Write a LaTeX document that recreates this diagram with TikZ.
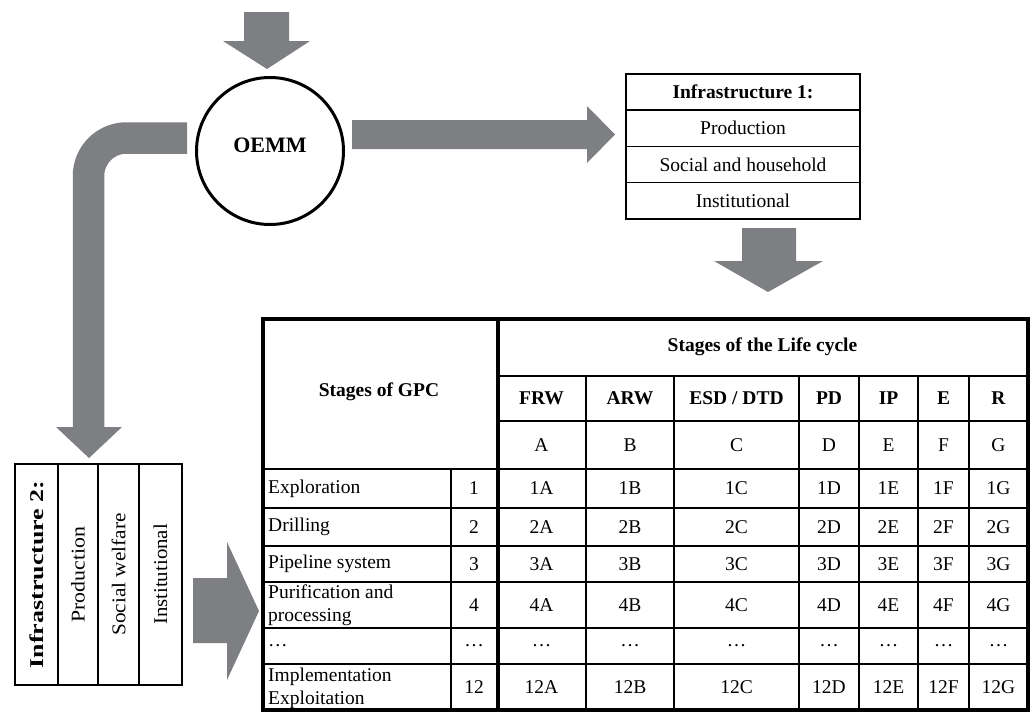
\documentclass[tikz,border=0pt]{standalone}
\usepackage{fontspec}
\usepackage{graphicx}
\setmainfont{Liberation Serif}
\usetikzlibrary{calc}
\usetikzlibrary{positioning}
\definecolor{arrowGray}{RGB}{126,127,130}
\tikzstyle{bigarrow} = [fill=arrowGray, draw=none]
\tikzstyle{cell} = [inner sep=0, align=center, font=\fontsize{19.5}{23}\selectfont]
\tikzstyle{cellbold} = [cell, font=\fontsize{19.5}{23}\selectfont\bfseries]
\tikzstyle{stagename} = [cell, anchor=west, align=left]
\tikzstyle{infrow} = [draw, line width=1.3pt, minimum width=234pt, minimum height=36.25pt, inner sep=0, outer sep=0, font=\fontsize{19.5}{23}\selectfont]
\tikzstyle{infcol} = [draw, line width=1.3pt, rotate=90, minimum width=221pt, inner sep=0, outer sep=0, font=\fontsize{19.5}{23}\selectfont]
\tikzstyle{oemmnode} = [draw, circle, line width=3pt, minimum size=147pt, inner sep=0]
\tikzstyle{thinrule} = [line width=1.2pt]
\tikzstyle{thickrule} = [line width=4pt]

\begin{document}
\begin{tikzpicture}[x=1pt, y=-1pt]
    \useasboundingbox (0,0) rectangle (1034,713);
    % arrow into OEMM
    \fill[bigarrow] (244,12) -- (289,12) -- (289,41) -- (310,41) -- (267,69) -- (223,41) -- (244,41) -- cycle;
    \node[oemmnode] (oemm) at (270,151) {};
    \node[cellbold, font=\fontsize{22}{24}\selectfont\bfseries] (oemm_lbl) at (270,145) {OEMM};
    % OEMM -> infrastructure 1
    \fill[bigarrow] (352,120) -- (587,120) -- (587,106) -- (615,134.5) -- (587,163) -- (587,149) -- (352,149) -- cycle;
    \node[infrow, font=\fontsize{19.5}{23}\selectfont\bfseries] (inf1_head) at (743,92) {Infrastructure 1:};
    \node[infrow, below=0pt of inf1_head] (inf1_prod) {Production};
    \node[infrow, below=0pt of inf1_prod] (inf1_soc) {Social and household};
    \node[infrow, below=0pt of inf1_soc] (inf1_inst) {Institutional};
    \fill[bigarrow] (742,228) -- (796,228) -- (796,261) -- (823,261) -- (768,292) -- (714,261) -- (742,261) -- cycle;
    % OEMM -> infrastructure 2
    \draw[arrowGray, line width=31.5pt, rounded corners=38pt] (187,138) -| (88.5,427.5);
    \fill[bigarrow] (56,427) -- (122,427) -- (89,458) -- cycle;
    \node[infcol, minimum height=43pt] (inf2_head) at (36.5,574.5) {\scalebox{1.33}[1]{\bfseries Infrastructure 2:}};
    \node[infcol, minimum height=40pt] (inf2_prod) at (78,574.5) {\scalebox{1.12}[1]{Production}};
    \node[infcol, minimum height=41pt] (inf2_soc) at (118.5,574.5) {\scalebox{1.09}[1]{Social welfare}};
    \node[infcol, minimum height=43pt] (inf2_inst) at (160.5,574.5) {\scalebox{1.07}[1]{Institutional}};
    \fill[bigarrow] (193,578) -- (227,578) -- (227,542) -- (259,611) -- (227,680) -- (227,643) -- (193,643) -- cycle;
    % table grid
    \foreach \y in {469,508,546,582,628,664}
        \draw[thinrule] (263,\y) -- (1027.5,\y);
    \foreach \y in {376,421}
        \draw[thinrule] (498,\y) -- (1027.5,\y);
    \draw[thinrule] (451,469) -- (451,710);
    \foreach \x in {586,674,799,859,918,969}
        \draw[thinrule] (\x,376) -- (\x,710);
    \draw[thickrule] (498,319) -- (498,710);
    \draw[thickrule] (263,319) rectangle (1027.5,710);
    % table header
    \node[cellbold] (gpc_head) at (379,392) {Stages of GPC};
    \node[cellbold] (life_head) at (762.5,346.5) {Stages of the Life cycle};
    \foreach \x/\abbr/\ltr in {541.5/FRW/A, 630/ARW/B, 736.5/{ESD / DTD}/C, 829/PD/D, 888.5/IP/E, 943.5/E/F, 998.5/R/G} {
        \node[cellbold] (abbr_\ltr) at (\x,398.5) {\abbr};
        \node[cell] (ltr_\ltr) at (\x,445) {\ltr};
    }
    % table body
    \node[stagename] (stage_1) at (268,488.5) {Exploration};
    \node[stagename] (stage_2) at (268,527) {Drilling};
    \node[stagename] (stage_3) at (268,564) {Pipeline system};
    \node[stagename] (stage_4) at (268,605) {Purification and\\processing};
    \node[stagename] (stage_dots) at (268,646) {\ldots};
    \node[stagename] (stage_12) at (268,688) {Implementation\\Exploitation};
    \foreach \y/\rowno in {488.5/1, 527/2, 564/3, 605/4, 687/12} {
        \node[cell] (no_\rowno) at (474,\y) {\rowno};
        \foreach \x/\ltr in {541.5/A, 630/B, 736.5/C, 829/D, 888.5/E, 943.5/F, 998.5/G}
            \node[cell] (cell_\rowno\ltr) at (\x,\y) {\rowno\ltr};
    }
    \foreach \x in {474,541.5,630,736.5,829,888.5,943.5,998.5}
        \node[cell] (dots_\x) at (\x,646) {\ldots};
\end{tikzpicture}
\end{document}
